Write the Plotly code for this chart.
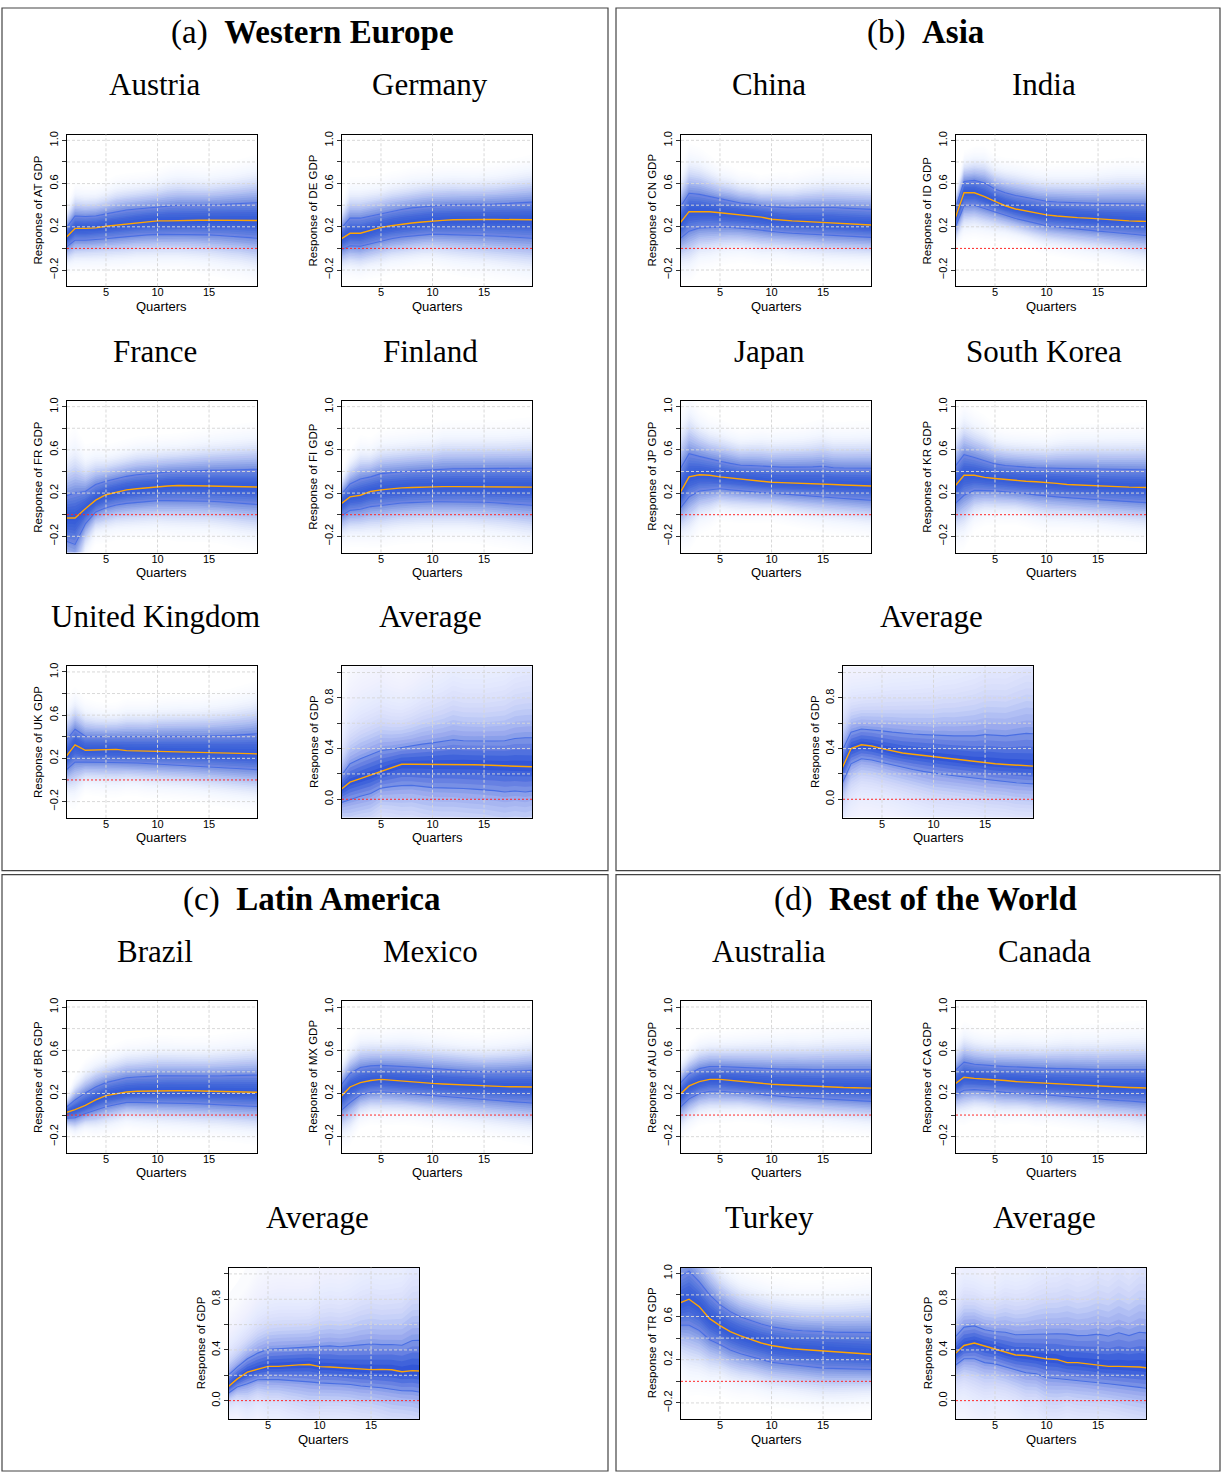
import numpy as np
import plotly.graph_objects as go

W, H = 1221, 1473
QUARTERS = list(range(1, 21))

# ---- impulse responses: median and 68% band (upper / lower) per country ----
at_med = [0.09, 0.185, 0.185, 0.19, 0.205, 0.215, 0.23, 0.24, 0.25, 0.255, 0.255, 0.255, 0.258, 0.26, 0.262, 0.262, 0.265, 0.263, 0.26, 0.258]
at_up = [0.17, 0.30, 0.295, 0.30, 0.32, 0.34, 0.355, 0.365, 0.375, 0.385, 0.395, 0.40, 0.40, 0.40, 0.40, 0.405, 0.41, 0.415, 0.42, 0.425]
at_lo = [0.0, 0.075, 0.075, 0.08, 0.09, 0.10, 0.11, 0.12, 0.125, 0.13, 0.13, 0.13, 0.13, 0.128, 0.125, 0.12, 0.115, 0.11, 0.10, 0.09]

de_med = [0.08, 0.14, 0.14, 0.165, 0.195, 0.21, 0.225, 0.235, 0.245, 0.255, 0.26, 0.265, 0.268, 0.268, 0.268, 0.268, 0.268, 0.268, 0.267, 0.265]
de_up = [0.17, 0.28, 0.28, 0.30, 0.325, 0.345, 0.36, 0.375, 0.385, 0.395, 0.40, 0.405, 0.405, 0.405, 0.408, 0.41, 0.415, 0.42, 0.425, 0.43]
de_lo = [-0.02, 0.025, 0.02, 0.045, 0.07, 0.09, 0.105, 0.115, 0.125, 0.132, 0.13, 0.128, 0.125, 0.122, 0.12, 0.115, 0.11, 0.105, 0.098, 0.092]

fr_med = [-0.03, -0.03, 0.055, 0.135, 0.185, 0.21, 0.23, 0.24, 0.25, 0.26, 0.265, 0.27, 0.27, 0.268, 0.265, 0.263, 0.262, 0.26, 0.258, 0.255]
fr_up = [0.17, 0.20, 0.215, 0.28, 0.31, 0.335, 0.355, 0.37, 0.38, 0.39, 0.395, 0.40, 0.405, 0.408, 0.41, 0.412, 0.415, 0.417, 0.418, 0.42]
fr_lo = [-0.24, -0.275, -0.085, 0.025, 0.065, 0.09, 0.105, 0.115, 0.122, 0.13, 0.13, 0.13, 0.13, 0.128, 0.125, 0.12, 0.113, 0.105, 0.098, 0.092]

fi_med = [0.09, 0.165, 0.18, 0.215, 0.23, 0.24, 0.248, 0.252, 0.256, 0.26, 0.26, 0.26, 0.26, 0.26, 0.26, 0.26, 0.258, 0.257, 0.256, 0.255]
fi_up = [0.17, 0.285, 0.33, 0.35, 0.38, 0.39, 0.40, 0.405, 0.41, 0.415, 0.425, 0.425, 0.425, 0.425, 0.425, 0.425, 0.425, 0.427, 0.428, 0.43]
fi_lo = [-0.02, 0.04, 0.05, 0.075, 0.085, 0.098, 0.108, 0.112, 0.117, 0.12, 0.12, 0.12, 0.12, 0.118, 0.115, 0.11, 0.105, 0.098, 0.09, 0.085]

uk_med = [0.20, 0.325, 0.275, 0.28, 0.285, 0.283, 0.272, 0.27, 0.27, 0.268, 0.265, 0.263, 0.26, 0.258, 0.255, 0.253, 0.25, 0.247, 0.244, 0.24]
uk_up = [0.35, 0.47, 0.405, 0.40, 0.40, 0.40, 0.402, 0.40, 0.40, 0.405, 0.405, 0.405, 0.403, 0.403, 0.405, 0.408, 0.41, 0.415, 0.42, 0.43]
uk_lo = [0.08, 0.165, 0.165, 0.165, 0.165, 0.163, 0.16, 0.157, 0.152, 0.148, 0.144, 0.14, 0.136, 0.131, 0.125, 0.12, 0.113, 0.106, 0.099, 0.092]

we_avg_med = [0.07, 0.135, 0.163, 0.19, 0.222, 0.25, 0.276, 0.276, 0.276, 0.276, 0.276, 0.276, 0.275, 0.273, 0.27, 0.267, 0.263, 0.262, 0.26, 0.255]
we_avg_up = [0.17, 0.28, 0.32, 0.35, 0.385, 0.395, 0.41, 0.42, 0.435, 0.445, 0.455, 0.47, 0.462, 0.46, 0.458, 0.46, 0.462, 0.48, 0.485, 0.485]
we_avg_lo = [-0.03, 0.0, 0.024, 0.045, 0.088, 0.1, 0.108, 0.11, 0.1, 0.092, 0.09, 0.09, 0.085, 0.08, 0.076, 0.068, 0.058, 0.065, 0.058, 0.068]

cn_med = [0.22, 0.34, 0.34, 0.34, 0.33, 0.32, 0.31, 0.30, 0.29, 0.27, 0.26, 0.255, 0.25, 0.245, 0.24, 0.235, 0.23, 0.225, 0.22, 0.215]
cn_up = [0.36, 0.51, 0.50, 0.48, 0.455, 0.44, 0.42, 0.41, 0.395, 0.385, 0.38, 0.375, 0.378, 0.38, 0.38, 0.378, 0.373, 0.368, 0.363, 0.36]
cn_lo = [0.08, 0.16, 0.19, 0.195, 0.197, 0.195, 0.19, 0.18, 0.168, 0.155, 0.148, 0.14, 0.135, 0.13, 0.123, 0.118, 0.112, 0.108, 0.104, 0.10]

id_med = [0.24, 0.515, 0.515, 0.48, 0.435, 0.395, 0.365, 0.345, 0.325, 0.31, 0.30, 0.29, 0.285, 0.28, 0.272, 0.265, 0.26, 0.255, 0.252, 0.25]
id_up = [0.32, 0.62, 0.63, 0.605, 0.55, 0.515, 0.49, 0.47, 0.45, 0.437, 0.43, 0.425, 0.42, 0.418, 0.415, 0.415, 0.415, 0.413, 0.41, 0.41]
id_lo = [0.16, 0.395, 0.40, 0.37, 0.335, 0.305, 0.277, 0.255, 0.23, 0.21, 0.198, 0.187, 0.178, 0.17, 0.16, 0.152, 0.142, 0.133, 0.125, 0.117]

jp_med = [0.18, 0.35, 0.37, 0.365, 0.35, 0.34, 0.33, 0.32, 0.31, 0.30, 0.297, 0.295, 0.292, 0.288, 0.285, 0.28, 0.275, 0.272, 0.268, 0.265]
jp_up = [0.40, 0.565, 0.54, 0.515, 0.495, 0.475, 0.458, 0.455, 0.45, 0.44, 0.44, 0.44, 0.44, 0.443, 0.448, 0.435, 0.432, 0.432, 0.43, 0.43]
jp_lo = [0.04, 0.165, 0.22, 0.23, 0.24, 0.23, 0.22, 0.213, 0.206, 0.20, 0.192, 0.185, 0.178, 0.17, 0.163, 0.157, 0.15, 0.144, 0.138, 0.132]

kr_med = [0.25, 0.365, 0.365, 0.345, 0.335, 0.325, 0.315, 0.31, 0.305, 0.30, 0.29, 0.28, 0.275, 0.27, 0.265, 0.26, 0.257, 0.255, 0.253, 0.25]
kr_up = [0.43, 0.555, 0.53, 0.50, 0.47, 0.455, 0.445, 0.44, 0.435, 0.43, 0.43, 0.428, 0.426, 0.424, 0.42, 0.418, 0.417, 0.416, 0.415, 0.415]
kr_lo = [0.09, 0.18, 0.225, 0.225, 0.22, 0.212, 0.205, 0.195, 0.183, 0.172, 0.165, 0.158, 0.152, 0.146, 0.14, 0.134, 0.128, 0.122, 0.116, 0.11]

asia_avg_med = [0.22, 0.40, 0.43, 0.42, 0.40, 0.38, 0.365, 0.355, 0.345, 0.335, 0.325, 0.315, 0.305, 0.295, 0.29, 0.28, 0.275, 0.27, 0.265, 0.26]
asia_avg_up = [0.36, 0.53, 0.555, 0.55, 0.54, 0.53, 0.52, 0.515, 0.51, 0.505, 0.505, 0.50, 0.50, 0.50, 0.51, 0.505, 0.50, 0.51, 0.52, 0.515]
asia_avg_lo = [0.10, 0.28, 0.32, 0.31, 0.29, 0.27, 0.25, 0.235, 0.22, 0.205, 0.195, 0.185, 0.175, 0.165, 0.155, 0.145, 0.14, 0.13, 0.125, 0.12]

br_med = [0.02, 0.05, 0.09, 0.14, 0.18, 0.2, 0.213, 0.22, 0.223, 0.225, 0.225, 0.225, 0.225, 0.223, 0.222, 0.22, 0.218, 0.215, 0.212, 0.21]
br_up = [0.06, 0.14, 0.205, 0.26, 0.30, 0.325, 0.345, 0.352, 0.358, 0.363, 0.363, 0.362, 0.36, 0.36, 0.36, 0.362, 0.365, 0.367, 0.368, 0.37]
br_lo = [-0.03, -0.025, 0.015, 0.045, 0.077, 0.098, 0.117, 0.117, 0.116, 0.114, 0.112, 0.11, 0.107, 0.104, 0.10, 0.097, 0.093, 0.088, 0.082, 0.077]

mx_med = [0.16, 0.26, 0.30, 0.32, 0.33, 0.322, 0.312, 0.303, 0.298, 0.293, 0.288, 0.283, 0.278, 0.273, 0.268, 0.265, 0.263, 0.262, 0.261, 0.26]
mx_up = [0.26, 0.385, 0.44, 0.455, 0.46, 0.457, 0.452, 0.445, 0.438, 0.43, 0.425, 0.418, 0.41, 0.405, 0.40, 0.40, 0.402, 0.405, 0.41, 0.415]
mx_lo = [0.03, 0.115, 0.185, 0.21, 0.215, 0.21, 0.203, 0.195, 0.188, 0.18, 0.172, 0.164, 0.156, 0.148, 0.14, 0.134, 0.128, 0.122, 0.116, 0.11]

la_avg_med = [0.10, 0.17, 0.225, 0.25, 0.27, 0.27, 0.277, 0.282, 0.285, 0.268, 0.265, 0.26, 0.255, 0.247, 0.245, 0.247, 0.244, 0.228, 0.237, 0.232]
la_avg_up = [0.19, 0.265, 0.33, 0.375, 0.405, 0.41, 0.415, 0.418, 0.422, 0.428, 0.432, 0.425, 0.43, 0.44, 0.447, 0.442, 0.443, 0.437, 0.475, 0.476]
la_avg_lo = [0.05, 0.107, 0.134, 0.165, 0.166, 0.166, 0.16, 0.156, 0.148, 0.14, 0.137, 0.134, 0.127, 0.115, 0.11, 0.102, 0.09, 0.078, 0.077, 0.063]

au_med = [0.18, 0.27, 0.31, 0.33, 0.33, 0.32, 0.31, 0.30, 0.29, 0.285, 0.28, 0.275, 0.27, 0.265, 0.26, 0.258, 0.255, 0.253, 0.25, 0.248]
au_up = [0.28, 0.38, 0.43, 0.45, 0.45, 0.445, 0.44, 0.435, 0.43, 0.43, 0.425, 0.425, 0.42, 0.42, 0.42, 0.42, 0.42, 0.42, 0.42, 0.42]
au_lo = [0.06, 0.15, 0.20, 0.22, 0.22, 0.215, 0.21, 0.20, 0.19, 0.18, 0.172, 0.165, 0.16, 0.155, 0.15, 0.145, 0.14, 0.135, 0.13, 0.125]

ca_med = [0.28, 0.35, 0.34, 0.335, 0.33, 0.32, 0.31, 0.305, 0.30, 0.29, 0.285, 0.28, 0.275, 0.27, 0.265, 0.26, 0.258, 0.255, 0.252, 0.25]
ca_up = [0.40, 0.49, 0.47, 0.46, 0.455, 0.45, 0.445, 0.44, 0.435, 0.43, 0.43, 0.43, 0.425, 0.425, 0.42, 0.42, 0.42, 0.42, 0.42, 0.42]
ca_lo = [0.18, 0.23, 0.235, 0.23, 0.22, 0.21, 0.205, 0.20, 0.19, 0.185, 0.178, 0.17, 0.163, 0.155, 0.148, 0.14, 0.135, 0.13, 0.12, 0.115]

tr_med = [0.72, 0.76, 0.69, 0.58, 0.515, 0.46, 0.42, 0.385, 0.355, 0.332, 0.315, 0.302, 0.295, 0.288, 0.28, 0.275, 0.27, 0.262, 0.255, 0.248]
tr_up = [0.96, 1.02, 0.92, 0.80, 0.71, 0.645, 0.595, 0.56, 0.53, 0.505, 0.49, 0.475, 0.468, 0.462, 0.458, 0.455, 0.453, 0.452, 0.451, 0.45]
tr_lo = [0.52, 0.52, 0.47, 0.385, 0.34, 0.29, 0.255, 0.23, 0.202, 0.177, 0.165, 0.152, 0.142, 0.132, 0.122, 0.118, 0.115, 0.112, 0.11, 0.108]

row_avg_med = [0.36, 0.435, 0.455, 0.43, 0.41, 0.38, 0.36, 0.356, 0.343, 0.33, 0.325, 0.30, 0.30, 0.29, 0.277, 0.27, 0.27, 0.268, 0.265, 0.257]
row_avg_up = [0.49, 0.58, 0.59, 0.56, 0.545, 0.54, 0.52, 0.522, 0.528, 0.53, 0.528, 0.525, 0.513, 0.515, 0.525, 0.51, 0.535, 0.513, 0.54, 0.532]
row_avg_lo = [0.27, 0.33, 0.33, 0.30, 0.29, 0.265, 0.24, 0.22, 0.212, 0.18, 0.175, 0.168, 0.16, 0.152, 0.141, 0.133, 0.125, 0.115, 0.105, 0.094]

# ---- tick labels ----
X_TICKS = [5, 10, 15]
COUNTRY_Y_TICKS = [-0.2, 0.0, 0.2, 0.4, 0.6, 0.8, 1.0]
COUNTRY_Y_LABELS = ["\u22120.2", "", "0.2", "", "0.6", "", "1.0"]
AVG_Y_TICKS = [0.0, 0.2, 0.4, 0.6, 0.8, 1.0]
AVG_Y_LABELS = ["0.0", "", "0.4", "", "0.8", ""]

# ---- region boxes and headings ----
BOXES = [(2, 4, 608, 869), (616, 4, 1220, 869), (2, 873, 608, 1471), (616, 873, 1220, 1471)]
HEADINGS = [("(a)", "Western Europe", 312, 29), ("(b)", "Asia", 926, 29),
            ("(c)", "Latin America", 312, 898), ("(d)", "Rest of the World", 926, 898)]

PW, PH = 190, 152  # plot area size in px

# name, axis label code, series, plot top-left (px), pooled average?
panels = [
    ("Austria", "AT", at_med, at_up, at_lo, (67, 131), False),
    ("Germany", "DE", de_med, de_up, de_lo, (342, 131), False),
    ("France", "FR", fr_med, fr_up, fr_lo, (67, 398), False),
    ("Finland", "FI", fi_med, fi_up, fi_lo, (342, 398), False),
    ("United Kingdom", "UK", uk_med, uk_up, uk_lo, (67, 664), False),
    ("Average", "", we_avg_med, we_avg_up, we_avg_lo, (342, 664), True),
    ("China", "CN", cn_med, cn_up, cn_lo, (681, 131), False),
    ("India", "ID", id_med, id_up, id_lo, (956, 131), False),
    ("Japan", "JP", jp_med, jp_up, jp_lo, (681, 398), False),
    ("South Korea", "KR", kr_med, kr_up, kr_lo, (956, 398), False),
    ("Average", "", asia_avg_med, asia_avg_up, asia_avg_lo, (843, 664), True),
    ("Brazil", "BR", br_med, br_up, br_lo, (67, 1000), False),
    ("Mexico", "MX", mx_med, mx_up, mx_lo, (342, 1000), False),
    ("Average", "", la_avg_med, la_avg_up, la_avg_lo, (229, 1267), True),
    ("Australia", "AU", au_med, au_up, au_lo, (681, 1000), False),
    ("Canada", "CA", ca_med, ca_up, ca_lo, (956, 1000), False),
    ("Turkey", "TR", tr_med, tr_up, tr_lo, (681, 1267), False),
    ("Average", "", row_avg_med, row_avg_up, row_avg_lo, (956, 1267), True),
]

FAN_RGB = (50, 90, 220)
LINE_BLUE = "#4a6fe3"
MEDIAN_ORANGE = "#ffa500"
ZERO_RED = "rgb(255,40,40)"
SANS = "Liberation Sans, Arial, sans-serif"
SERIF = "Liberation Serif, Times New Roman, serif"


def px_x(v):
    return v / W


def px_y(v):
    return 1 - v / H


def coverage(d, pooled):
    # shading density as a function of distance from the median, in band half-widths
    if pooled:
        return 0.93 / (1 + (d / 1.3) ** 2)
    return 0.93 * np.exp(-0.5 * (d / 1.2) ** 2)


fig = go.Figure()
shapes = []
annotations = []

for i, (name, code, med, up, lo, (left, top), pooled) in enumerate(panels, start=1):
    xs = "" if i == 1 else str(i)
    xref, yref = "x" + xs, "y" + xs
    med_a, up_a, lo_a = np.array(med), np.array(up), np.array(lo)
    du, dl = up_a - med_a, med_a - lo_a

    # fan: nested bands whose opacities build up the density shading
    step = 0.2 if pooled else 0.12
    kmax = 8.0 if pooled else 3.8
    ds = np.arange(step, kmax + 1e-9, step)
    cov = coverage(ds, pooled)
    cov_next = np.append(cov[1:], 0.0)
    alphas = 1 - (1 - cov) / (1 - cov_next)
    for d, a in zip(ds, alphas):
        hi = med_a + d * du
        lw = med_a - d * dl
        fig.add_trace(go.Scatter(
            x=QUARTERS + QUARTERS[::-1], y=list(hi) + list(lw[::-1]),
            fill="toself", mode="lines", line=dict(width=0),
            fillcolor="rgba(%d,%d,%d,%.4f)" % (*FAN_RGB, a),
            hoverinfo="skip", xaxis=xref, yaxis=yref))

    fig.add_trace(go.Scatter(x=QUARTERS, y=up, mode="lines", line=dict(color=LINE_BLUE, width=1.1),
                             xaxis=xref, yaxis=yref))
    fig.add_trace(go.Scatter(x=QUARTERS, y=lo, mode="lines", line=dict(color=LINE_BLUE, width=1.1),
                             xaxis=xref, yaxis=yref))
    fig.add_trace(go.Scatter(x=QUARTERS, y=med, mode="lines", line=dict(color=MEDIAN_ORANGE, width=1.4),
                             xaxis=xref, yaxis=yref))

    yticks = AVG_Y_TICKS if pooled else COUNTRY_Y_TICKS
    ylabels = AVG_Y_LABELS if pooled else COUNTRY_Y_LABELS
    yrange = [-0.146, 1.05] if pooled else [-0.35, 1.053]

    fig.update_layout(**{
        "xaxis" + xs: dict(domain=[px_x(left), px_x(left + PW)], anchor=yref, range=[1.22, 19.65],
                           tickvals=X_TICKS, ticktext=[str(t) for t in X_TICKS], ticks="",
                           ticklabelstandoff=-4,
                           showgrid=False, zeroline=False, showline=True, mirror=True,
                           linecolor="black", linewidth=1,
                           tickfont=dict(family=SANS, size=11, color="black")),
        "yaxis" + xs: dict(domain=[px_y(top + PH), px_y(top)], anchor=xref, range=yrange,
                           tickvals=yticks, ticktext=ylabels, ticks="outside", ticklen=4,
                           tickcolor="#333", tickangle=-90, showgrid=False, zeroline=False,
                           showline=True, mirror=True, linecolor="black", linewidth=1,
                           tickfont=dict(family=SANS, size=11, color="black")),
    })

    # dashed grid on top of the fan, red dotted zero line
    for t in X_TICKS:
        shapes.append(dict(type="line", xref=xref, yref=yref + " domain", x0=t, x1=t, y0=0, y1=1,
                           line=dict(color="rgba(215,215,215,0.95)", width=1, dash="3px,2px")))
    for t in yticks:
        if abs(t) < 1e-9:
            continue
        shapes.append(dict(type="line", xref=xref + " domain", yref=yref, x0=0, x1=1, y0=t, y1=t,
                           line=dict(color="rgba(215,215,215,0.95)", width=1, dash="3px,2px")))
    shapes.append(dict(type="line", xref=xref + " domain", yref=yref, x0=0, x1=1, y0=0, y1=0,
                       line=dict(color=ZERO_RED, width=1, dash="2px,2px")))

    # titles
    annotations.append(dict(text=name, x=px_x(left + PW / 2 - 7), y=px_y(top - 50),
                            xref="paper", yref="paper", showarrow=False, xanchor="center", yanchor="middle",
                            font=dict(family=SERIF, size=31, color="black")))
    annotations.append(dict(text="Quarters", x=px_x(left + PW / 2), y=px_y(top + PH + 20),
                            xref="paper", yref="paper", showarrow=False, xanchor="center", yanchor="middle",
                            font=dict(family=SANS, size=13, color="black")))
    ylab = "Response of GDP" if pooled else "Response of %s GDP" % code
    annotations.append(dict(text=ylab, x=px_x(left - (28 if pooled else 29)), y=px_y(top + PH / 2),
                            xref="paper", yref="paper", showarrow=False, xanchor="center", yanchor="middle",
                            textangle=-90, font=dict(family=SANS, size=11.5, color="black")))

for (x0, y0, x1, y1) in BOXES:
    shapes.append(dict(type="rect", xref="paper", yref="paper", x0=px_x(x0), x1=px_x(x1),
                       y0=px_y(y1), y1=px_y(y0), line=dict(color="#444", width=1.2)))

for tag, region, cx, cy in HEADINGS:
    annotations.append(dict(text="%s  <b>%s</b>" % (tag, region), x=px_x(cx), y=px_y(cy),
                            xref="paper", yref="paper", showarrow=False, xanchor="center", yanchor="middle",
                            font=dict(family=SERIF, size=33, color="black")))

fig.update_layout(width=W, height=H, margin=dict(l=0, r=0, t=0, b=0), showlegend=False,
                  plot_bgcolor="white", paper_bgcolor="white",
                  shapes=shapes, annotations=annotations)

fig.write_html("out.html")
